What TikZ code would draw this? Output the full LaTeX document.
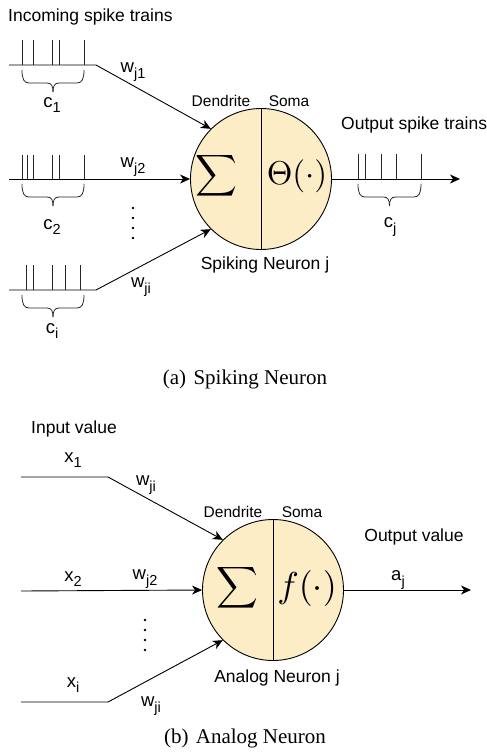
\documentclass[tikz,border=0pt]{standalone}
\usepackage{graphicx}
\usepackage{fontspec}
\setmainfont{Liberation Sans}
\newfontfamily\capfont{Liberation Serif}
\usetikzlibrary{arrows.meta}

% small lowered subscript in text labels
\newcommand\lowsub[1]{\raisebox{-0.55ex}{\fontsize{14.5}{14.5}\selectfont #1}}
% curly brace under a spike train: x1, x2, top y
\newcommand\spikebrace[3]{%
  \pgfmathsetmacro\brmid{(#1+#2)/2}%
  \draw[brace] (#1,#3) .. controls (#1,#3+9) and (#1+2,#3+13) .. (#1+7,#3+13)
     -- (\brmid-6,#3+13) .. controls (\brmid-1.5,#3+13) and (\brmid,#3+16) .. (\brmid,#3+22);
  \draw[brace] (#2,#3) .. controls (#2,#3+9) and (#2-2,#3+13) .. (#2-7,#3+13)
     -- (\brmid+6,#3+13) .. controls (\brmid+1.5,#3+13) and (\brmid,#3+16) .. (\brmid,#3+22);
}
% vertical spikes: list of x, base y, height
\newcommand\spikes[3]{%
  \foreach \sx in {#1} \draw[spike] (\sx,#2) -- (\sx,#2-#3);
}

\tikzset{
  neuron/.style={circle, draw=black, line width=0.9pt, fill=somafill,
    minimum size=141pt, inner sep=0pt},
  wire/.style={line width=0.9pt, draw=black},
  arr/.style={wire, -{Stealth[length=10pt,width=9pt,inset=3pt]}},
  spike/.style={line width=0.9pt, draw=black!85},
  brace/.style={line width=0.8pt, draw=black!85},
  lbl/.style={inner sep=0pt, font=\fontsize{17.5}{19}\selectfont},
  small/.style={inner sep=0pt, font=\fontsize{15.5}{17}\selectfont},
  var/.style={inner sep=0pt, font=\fontsize{18.5}{20}\selectfont},
  captext/.style={inner sep=0pt, font=\capfont\fontsize{21}{24}\selectfont},
  vdots/.style={circle, fill=black, inner sep=0pt, minimum size=2.6pt},
}
\definecolor{somafill}{HTML}{FCEDC6}

\begin{document}
\begin{tikzpicture}[x=1pt, y=-1pt]
\useasboundingbox (0,0) rectangle (487,753);

% ================= (a) spiking neuron =================
\node[lbl, anchor=west] (intitle) at (8,17) {Incoming spike trains};

\node[neuron] (n1) at (261,179) {};
\draw[line width=0.9pt] (n1.north) -- (n1.south);
\node[inner sep=0pt] (sum1) at (216,176) {\scalebox{2.9}{$\displaystyle\sum$}};
\node[inner sep=0pt] (th1) at (297,176) {\scalebox{3.3}{$\Theta(\cdot)$}};
\node[small] (den1) at (221,101) {Dendrite};
\node[small] (som1) at (289,101) {Soma};
\node[lbl] (sn1) at (265,265) {Spiking Neuron j};

% input train 1
\coordinate (s1a) at (9,65);
\coordinate (s1b) at (96,65);
\draw[arr] (s1a) -- (s1b) -- (n1.135);
\spikes{22,33,52,59,84}{65}{25}
\spikebrace{22}{84}{70}
\node[var] (c1) at (52,105) {c\lowsub{1}};
\node[var] (w1) at (133,72) {w\lowsub{j1}};

% input train 2
\coordinate (s2a) at (9,179);
\draw[arr] (s2a) -- (n1.west);
\spikes{22,27,33,52,59,84}{179}{24}
\spikebrace{22}{84}{184}
\node[var] (c2) at (52,227) {c\lowsub{2}};
\node[var] (w2) at (133,167) {w\lowsub{j2}};

\foreach \k in {0,1,2,3} \node[vdots] (da\k) at (133,208+10*\k) {};

% input train i
\coordinate (sia) at (9,290);
\coordinate (sib) at (96,290);
\draw[arr] (sia) -- (sib) -- (n1.225);
\spikes{26,33,52,65,80}{290}{25}
\spikebrace{22}{84}{295}
\node[var] (ci) at (52,331) {c\lowsub{i}};
\node[var] (wi) at (141,287) {w\lowsub{ji}};

% output train
\coordinate (oute) at (460,179);
\draw[arr] (n1.east) -- (oute);
\spikes{358,365,381,396,421}{179}{25}
\spikebrace{358}{421}{184}
\node[var] (cj) at (390,227) {c\lowsub{j}};
\node[lbl, anchor=west] (outtitle) at (341,125) {Output spike trains};

\node[captext] (capa) at (245,379) {(a)\hspace{0.35em}Spiking Neuron};

% ================= (b) analog neuron =================
\node[lbl] (invtitle) at (74,429) {Input value};

\node[neuron] (n2) at (273,590) {};
\draw[line width=0.9pt] (n2.north) -- (n2.south);
\node[inner sep=0pt] (sum2) at (237,588) {\scalebox{2.9}{$\displaystyle\sum$}};
\node[inner sep=0pt] (fn2) at (307,588) {\scalebox{3.6}{$f(\cdot)$}};
\node[small] (den2) at (233,512) {Dendrite};
\node[small] (som2) at (302,512) {Soma};
\node[lbl] (an2) at (277,678) {Analog Neuron j};

\coordinate (x1a) at (21,477);
\coordinate (x1b) at (108,477);
\draw[arr] (x1a) -- (x1b) -- (n2.135);
\node[var] (x1) at (73,460) {x\lowsub{1}};
\node[var] (v1) at (146,485) {w\lowsub{ji}};

\coordinate (x2a) at (21,591);
\draw[arr] (x2a) -- (n2.west);
\node[var] (x2) at (73,579) {x\lowsub{2}};
\node[var] (v2) at (145,579) {w\lowsub{j2}};

\foreach \k in {0,1,2,3} \node[vdots] (db\k) at (145,620+10*\k) {};

\coordinate (xia) at (21,702);
\coordinate (xib) at (108,702);
\draw[arr] (xia) -- (xib) -- (n2.225);
\node[var] (xi) at (73,685) {x\lowsub{i}};
\node[var] (vi) at (151,706) {w\lowsub{ji}};

\coordinate (aoe) at (471,590);
\draw[arr] (n2.east) -- (aoe);
\node[var] (aj) at (398,580) {a\lowsub{j}};
\node[lbl] (outv) at (414,537) {Output value};

\node[captext] (capb) at (245,738) {(b)\hspace{0.35em}Analog Neuron};
\end{tikzpicture}
\end{document}
